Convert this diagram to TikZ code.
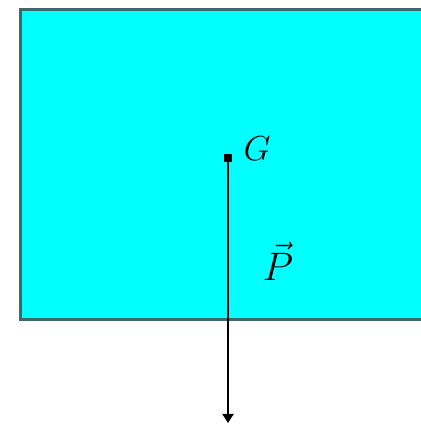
\documentclass[tikz,border=0pt]{standalone}
\usepackage{amsmath}
\usepackage{graphicx}
\usepackage{tikz}
\usetikzlibrary{arrows.meta}

\definecolor{bodycyan}{RGB}{0,255,255}
\definecolor{edgegray}{RGB}{60,105,105}

\begin{document}
\begin{tikzpicture}[
    x=1pt, y=1pt,
    >={Triangle[length=9pt,width=11pt]},
    body/.style={draw=edgegray, line width=2.6pt, fill=bodycyan,
                 minimum width=421pt, minimum height=310pt,
                 inner sep=0pt, anchor=north west},
    lab/.style={inner sep=0pt, font=\Huge},
    force/.style={->, line width=1.8pt},
  ]
  \useasboundingbox (0,0) rectangle (421,424);

  %% ---- solid body ---------------------------------------------------
  \node[body] (B) at (19,416) {};

  %% ---- centre of gravity --------------------------------------------
  \node[rectangle, fill=black, inner sep=0pt, minimum size=8pt] (G) at (228,266) {};
  \node[lab] (Glab) at (257,275) {\scalebox{1.4}{$G$}};

  %% ---- weight -------------------------------------------------------
  \coordinate (Pend) at (228,1);
  \draw[force] (G) -- (Pend);
  \node[lab] (Plab) at (278,163) {\scalebox{1.6}{$\vec{P}$}};

\end{tikzpicture}
\end{document}
